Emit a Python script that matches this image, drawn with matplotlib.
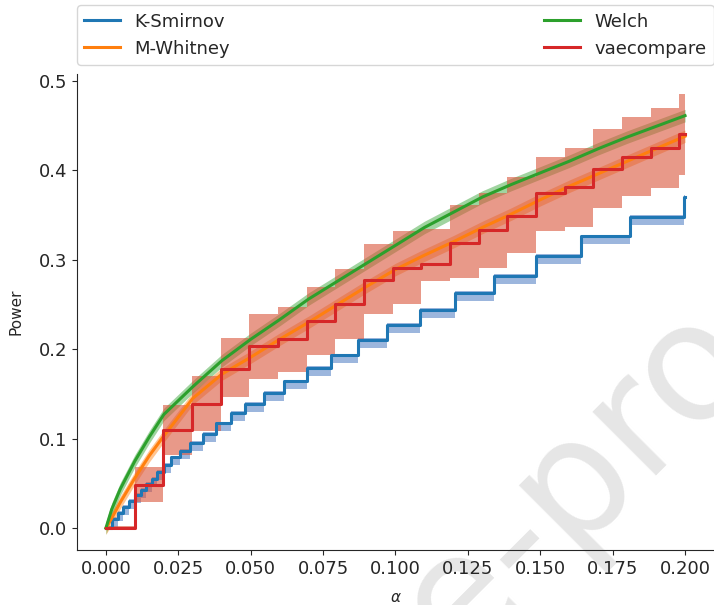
import numpy as np
import matplotlib
matplotlib.use("Agg")
import matplotlib.pyplot as plt

# smooth curves (Welch, Mann-Whitney)
alpha = [0, 0.002, 0.005, 0.01, 0.015, 0.02, 0.03, 0.04, 0.05, 0.06, 0.07,
         0.08, 0.09, 0.1, 0.11, 0.12, 0.13, 0.14, 0.15, 0.16, 0.17, 0.18,
         0.19, 0.2]
welch = [0, 0.021, 0.044, 0.075, 0.102, 0.127, 0.158, 0.187, 0.211, 0.233,
         0.256, 0.276, 0.296, 0.316, 0.336, 0.353, 0.370, 0.384, 0.397,
         0.410, 0.424, 0.437, 0.449, 0.461]
mwhitney = [0, 0.011, 0.029, 0.056, 0.081, 0.103, 0.145, 0.172, 0.191,
            0.211, 0.230, 0.250, 0.270, 0.289, 0.305, 0.320, 0.336, 0.351,
            0.367, 0.382, 0.396, 0.410, 0.424, 0.438]
welch_err = 0.007
mwhitney_err = 0.007

# K-Smirnov: step function (value holds from each alpha to the next)
ks_alpha = [0, 0.002, 0.004, 0.006, 0.008, 0.010, 0.012, 0.014, 0.016,
            0.0175, 0.0200, 0.0226, 0.0255, 0.0290, 0.0336, 0.0381, 0.0433,
            0.0481, 0.0547, 0.0616, 0.0694, 0.0776, 0.0870, 0.0971, 0.1084,
            0.1206, 0.1340, 0.1484, 0.1640, 0.1811, 0.1997, 0.2]
ks_power = [0, 0.010, 0.017, 0.024, 0.030, 0.037, 0.043, 0.049, 0.055,
            0.063, 0.071, 0.079, 0.086, 0.095, 0.105, 0.117, 0.129, 0.139,
            0.151, 0.164, 0.179, 0.193, 0.210, 0.227, 0.244, 0.263, 0.282,
            0.304, 0.326, 0.348, 0.370, 0.370]
ks_err_lo = 0.009
ks_err_hi = 0.002

# vaecompare: step function with interval boxes
vae_alpha = [0, 0.0099, 0.0198, 0.0297, 0.0396, 0.0495, 0.0594, 0.0693,
             0.0792, 0.0891, 0.0990, 0.1089, 0.1188, 0.1287, 0.1386, 0.1485,
             0.1584, 0.1683, 0.1782, 0.1881, 0.1980, 0.2]
vae_power = [0, 0.048, 0.110, 0.139, 0.178, 0.203, 0.211, 0.231, 0.251,
             0.277, 0.291, 0.295, 0.319, 0.333, 0.349, 0.375, 0.381, 0.401,
             0.415, 0.425, 0.440, 0.440]
vae_lo = [-0.002, 0.029, 0.082, 0.108, 0.146, 0.167, 0.174, 0.193, 0.211,
          0.239, 0.250, 0.276, 0.280, 0.291, 0.307, 0.332, 0.337, 0.358,
          0.371, 0.380, 0.395, 0.395]
vae_hi = [0.002, 0.068, 0.138, 0.170, 0.213, 0.239, 0.247, 0.269, 0.290,
          0.317, 0.332, 0.334, 0.361, 0.375, 0.392, 0.415, 0.425, 0.446,
          0.460, 0.470, 0.485, 0.485]

alpha = np.array(alpha)
welch = np.array(welch)
mwhitney = np.array(mwhitney)
ks_power = np.array(ks_power)

plt.rcParams["text.color"] = "#262626"
plt.rcParams["axes.labelcolor"] = "#262626"
plt.rcParams["xtick.color"] = "#262626"
plt.rcParams["ytick.color"] = "#262626"
plt.rcParams["axes.edgecolor"] = "#262626"

fig = plt.figure(figsize=(7.14, 6.05), dpi=100)
ax = fig.add_axes([0.1078, 0.0909, 0.8922, 0.7860])
ax.patch.set_visible(False)

# watermark behind everything
fig.text(0.64, -0.10, "e-proof", fontsize=118, color="#e6e6e6",
         rotation=45, rotation_mode="anchor", ha="left", va="baseline",
         zorder=-1)

l1, = ax.plot(ks_alpha, ks_power, drawstyle="steps-post", color="C0", lw=2.2)
ax.fill_between(ks_alpha, np.maximum(ks_power - ks_err_lo, 0),
                ks_power + ks_err_hi, step="post", color="#3a6fbd",
                alpha=0.5, lw=0)

l2, = ax.plot(alpha, mwhitney, color="C1", lw=2.2)
ax.fill_between(alpha, mwhitney - mwhitney_err, mwhitney + mwhitney_err,
                color="C1", alpha=0.45, lw=0)

l3, = ax.plot(alpha, welch, color="C2", lw=2.2)
ax.fill_between(alpha, welch - welch_err, welch + welch_err,
                color="C2", alpha=0.45, lw=0)

l4, = ax.plot(vae_alpha, vae_power, drawstyle="steps-post", color="C3", lw=2.2)
ax.fill_between(vae_alpha, vae_lo, vae_hi, step="post",
                color="#d9553b", alpha=0.6, lw=0)

ax.set_xticks(np.arange(0, 0.2001, 0.025))
ax.set_yticks([0.0, 0.1, 0.2, 0.3, 0.4, 0.5])
ax.tick_params(labelsize=13)
ax.set_xlim(-0.01, 0.21)
ax.set_ylim(-0.0245, 0.507)
ax.set_xlabel(r"$\alpha$", fontsize=11, labelpad=9)
ax.set_ylabel("Power", fontsize=11, labelpad=11)
ax.spines["top"].set_visible(False)
ax.spines["right"].set_visible(False)

ax.legend([l1, l2, l3, l4], ["K-Smirnov", "M-Whitney", "Welch", "vaecompare"],
          bbox_to_anchor=(0., 1.02, 1., .102), loc="lower left", ncol=2,
          mode="expand", borderaxespad=0., fontsize=13)

fig.savefig("out.png", dpi=100)
